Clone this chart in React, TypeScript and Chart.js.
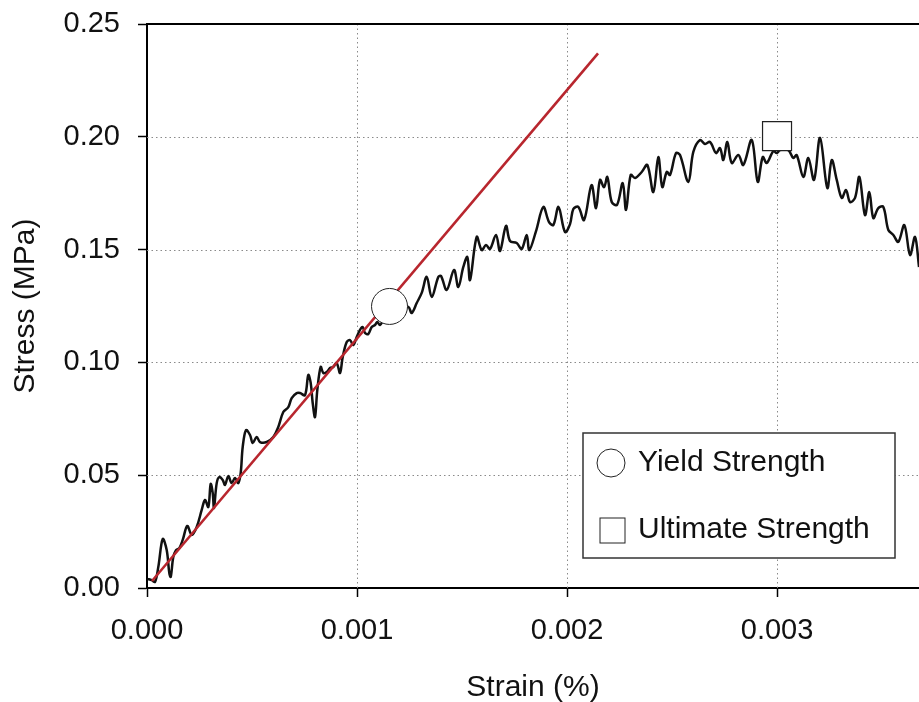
import React, { useEffect, useRef } from 'react';
import { Chart, registerables } from 'chart.js';

Chart.register(...registerables);

// Measured stress-strain curve
const strain = [
  0.0000024, 0.0000224, 0.0000381, 0.0000538, 0.0000748, 0.0000938, 0.0001062, 0.0001129, 0.0001252, 0.0001381,
  0.0001538, 0.00017, 0.0001919, 0.0002129, 0.0002367, 0.0002605, 0.0002762, 0.0002919, 0.0003033, 0.0003129,
  0.000319, 0.0003319, 0.0003443, 0.0003605, 0.0003714, 0.0003871, 0.0004033, 0.000419, 0.0004348, 0.0004462,
  0.0004557, 0.0004714, 0.0004905, 0.0005033, 0.0005224, 0.0005381, 0.00057, 0.0006014, 0.0006252, 0.000649,
  0.0006729, 0.000689, 0.0007129, 0.0007286, 0.0007524, 0.0007681, 0.0007795, 0.000789, 0.0008, 0.000811,
  0.0008271, 0.0008395, 0.0008557, 0.0008714, 0.0008871, 0.0009033, 0.000919, 0.0009319, 0.000951, 0.0009667,
  0.0009824, 0.0009986, 0.0010143, 0.0010271, 0.0010381, 0.0010538, 0.00107, 0.0010857, 0.0010967, 0.0011095,
  0.0011333, 0.001181, 0.0012143, 0.0012443, 0.0012605, 0.0012843, 0.0013081, 0.0013319, 0.0013557, 0.0013871,
  0.0014, 0.0014271, 0.0014619, 0.0014824, 0.0015062, 0.0015252, 0.0015381, 0.00157, 0.0015938, 0.0016143,
  0.0016333, 0.0016619, 0.001681, 0.0017095, 0.0017286, 0.0017605, 0.0017843, 0.0018081, 0.0018205, 0.0018524,
  0.0018871, 0.0019143, 0.0019348, 0.0019595, 0.0019905, 0.0020143, 0.00203, 0.0020538, 0.002081, 0.0021167,
  0.0021381, 0.0021571, 0.0021762, 0.0021919, 0.0022129, 0.0022381, 0.0022652, 0.002281, 0.0023033, 0.0023238,
  0.0023557, 0.0023824, 0.002411, 0.0024348, 0.0024538, 0.0024748, 0.0024905, 0.002519, 0.0025381, 0.0025776,
  0.0026014, 0.0026333, 0.0026571, 0.002681, 0.0027095, 0.0027286, 0.0027443, 0.0027633, 0.0027843, 0.0028157,
  0.0028395, 0.0028795, 0.0029081, 0.0029319, 0.002951, 0.0029824, 0.0029986, 0.0030143, 0.0030538, 0.0030776,
  0.0030938, 0.0031252, 0.003149, 0.0031762, 0.0032048, 0.0032395, 0.0032605, 0.0032843, 0.0033081, 0.0033286,
  0.0033476, 0.0033714, 0.0033919, 0.003419, 0.0034395, 0.0034586, 0.0034824, 0.0035062, 0.00353, 0.0035538,
  0.0035776, 0.0036062, 0.0036333, 0.0036571, 0.0036762,
];
const stress = [
  0.004, 0.0035, 0.0027, 0.0093, 0.0217, 0.0168, 0.0066, 0.0049, 0.0137, 0.0168,
  0.0177, 0.0213, 0.0275, 0.0235, 0.027, 0.0346, 0.039, 0.0359, 0.0461, 0.0421,
  0.0355, 0.0465, 0.0492, 0.0479, 0.0457, 0.0496, 0.0465, 0.0488, 0.0465, 0.051,
  0.0625, 0.07, 0.0678, 0.0643, 0.0669, 0.0647, 0.0647, 0.0669, 0.0714, 0.078,
  0.0802, 0.0842, 0.0864, 0.0864, 0.0855, 0.0944, 0.0909, 0.082, 0.0758, 0.0878,
  0.098, 0.0953, 0.0957, 0.0975, 0.098, 0.0997, 0.0953, 0.1024, 0.109, 0.1099,
  0.1077, 0.1113, 0.1144, 0.1157, 0.113, 0.1126, 0.1157, 0.1166, 0.1179, 0.1166,
  0.1197, 0.1223, 0.1232, 0.1246, 0.1219, 0.1263, 0.1308, 0.1379, 0.129, 0.1379,
  0.1383, 0.1321, 0.141, 0.1334, 0.1423, 0.1467, 0.1365, 0.1556, 0.1498, 0.152,
  0.1503, 0.1565, 0.1494, 0.1605, 0.1538, 0.1529, 0.1503, 0.1565, 0.1498, 0.1582,
  0.1689, 0.1622, 0.1609, 0.1689, 0.1578, 0.1613, 0.168, 0.1689, 0.1631, 0.1786,
  0.1684, 0.1809, 0.1777, 0.1822, 0.1711, 0.1698, 0.1795, 0.1676, 0.1831, 0.1817,
  0.1844, 0.1875, 0.1755, 0.191, 0.1777, 0.1844, 0.1831, 0.1928, 0.1919, 0.18,
  0.1933, 0.1986, 0.1968, 0.1977, 0.1928, 0.195, 0.1897, 0.1977, 0.1884, 0.1919,
  0.1875, 0.1986, 0.18, 0.191, 0.1884, 0.1937, 0.1928, 0.1941, 0.1941, 0.1906,
  0.1919, 0.1822, 0.1906, 0.1809, 0.1995, 0.1773, 0.1897, 0.1809, 0.1729, 0.1764,
  0.1711, 0.1729, 0.1822, 0.1653, 0.1755, 0.164, 0.1684, 0.1689, 0.1587, 0.1565,
  0.1534, 0.1609, 0.1476, 0.1556, 0.1423,
];

// Linear elastic fit line
const elasticStrain = [0.0000238, 0.0021476];
const elasticStress = [0.0031, 0.237];

// Marked points
const yieldStrain = [0.0011548];
const yieldStress = [0.1248];
const ultimateStrain = [0.003];
const ultimateStress = [0.2003];

// Axis ticks
const xTicks = [0, 0.001, 0.002, 0.003];
const yTicks = [0, 0.05, 0.1, 0.15, 0.2, 0.25];
const xMin = 0;
const xMax = 0.003676;
const yMin = 0;
const yMax = 0.25;

const FONT = "'Liberation Sans', Arial, Helvetica, sans-serif";

const zip = (xs: number[], ys: number[]) => xs.map((x, i) => ({ x, y: ys[i] }));

const zeroPadding = (scale: any) => {
  scale.paddingTop = 0;
  scale.paddingBottom = 0;
  scale.paddingLeft = 0;
  scale.paddingRight = 0;
};

const gridPlugin = {
  id: 'dottedGrid',
  beforeDatasetsDraw(chart: any) {
    const { ctx, chartArea: ca, scales } = chart;
    const x = scales.x;
    const y = scales.y;
    ctx.save();
    ctx.strokeStyle = '#8a8a8a';
    ctx.lineWidth = 1;
    ctx.setLineDash([1.5, 3]);
    xTicks.forEach((v) => {
      if (v <= xMin) return;
      const px = Math.round(x.getPixelForValue(v)) + 0.5;
      ctx.beginPath();
      ctx.moveTo(px, ca.top);
      ctx.lineTo(px, ca.bottom);
      ctx.stroke();
    });
    yTicks.forEach((v) => {
      if (v <= yMin || v >= yMax) return;
      const py = Math.round(y.getPixelForValue(v)) + 0.5;
      ctx.beginPath();
      ctx.moveTo(ca.left, py);
      ctx.lineTo(ca.right, py);
      ctx.stroke();
    });
    ctx.restore();
  },
  afterDraw(chart: any) {
    const { ctx, chartArea: ca } = chart;
    ctx.save();
    ctx.strokeStyle = '#000';
    ctx.lineWidth = 2;
    ctx.beginPath();
    ctx.moveTo(ca.left - 1, ca.top);
    ctx.lineTo(ca.right, ca.top);
    ctx.stroke();
    ctx.restore();
  },
};

const legendPlugin = {
  id: 'boxLegend',
  afterDraw(chart: any) {
    const { ctx, chartArea: ca } = chart;
    const ds = chart.data.datasets;
    const x0 = ca.left + 436;
    const y0 = ca.bottom - 155;
    const w = 312;
    const h = 125;
    ctx.save();
    ctx.fillStyle = '#fff';
    ctx.fillRect(x0, y0, w, h);
    ctx.strokeStyle = '#333';
    ctx.lineWidth = 1.5;
    ctx.strokeRect(x0, y0, w, h);

    // circle marker
    ctx.lineWidth = 1;
    ctx.strokeStyle = '#222';
    ctx.beginPath();
    ctx.arc(x0 + 28, y0 + 30, 14, 0, Math.PI * 2);
    ctx.fill();
    ctx.stroke();
    // square marker
    ctx.strokeRect(x0 + 17, y0 + 85, 25, 25);

    ctx.fillStyle = '#111';
    ctx.font = `30px ${FONT}`;
    ctx.textBaseline = 'middle';
    ctx.textAlign = 'left';
    ctx.fillText(ds[2].label, x0 + 55, y0 + 30);
    ctx.fillText(ds[3].label, x0 + 55, y0 + 97);
    ctx.restore();
  },
};

export default function App() {
  const ref = useRef<HTMLCanvasElement | null>(null);

  useEffect(() => {
    if (!ref.current) return;
    const chart = new Chart(ref.current, {
      type: 'scatter',
      data: {
        datasets: [
          {
            label: 'Stress-Strain',
            data: zip(strain, stress),
            showLine: true,
            borderColor: '#111',
            borderWidth: 2.5,
            pointRadius: 0,
            tension: 0.35,
            order: 4,
          },
          {
            label: 'Elastic Fit',
            data: zip(elasticStrain, elasticStress),
            showLine: true,
            borderColor: '#b8262e',
            borderWidth: 2.6,
            pointRadius: 0,
            order: 3,
          },
          {
            label: 'Yield Strength',
            data: zip(yieldStrain, yieldStress),
            pointStyle: 'circle',
            pointRadius: 18,
            pointBackgroundColor: '#fff',
            pointBorderColor: '#222',
            pointBorderWidth: 1,
            order: 1,
          },
          {
            label: 'Ultimate Strength',
            data: zip(ultimateStrain, ultimateStress),
            pointStyle: 'rect',
            pointRadius: 20.5,
            pointBackgroundColor: '#fff',
            pointBorderColor: '#222',
            pointBorderWidth: 1.2,
            order: 2,
          },
        ],
      },
      options: {
        animation: false,
        responsive: false,
        maintainAspectRatio: false,
        layout: { autoPadding: false, padding: { top: 24, right: 0, bottom: 0, left: 0 } },
        plugins: {
          legend: { display: false },
          tooltip: { enabled: false },
        },
        scales: {
          x: {
            type: 'linear',
            min: xMin,
            max: xMax,
            afterBuildTicks: (scale: any) => {
              scale.ticks = xTicks.map((v) => ({ value: v }));
            },
            afterFit: (scale: any) => {
              scale.height = 114;
              zeroPadding(scale);
            },
            grid: {
              drawOnChartArea: false,
              drawTicks: true,
              tickLength: 9,
              tickColor: '#000',
              tickWidth: 1.5,
            },
            border: { color: '#000', width: 2 },
            ticks: {
              padding: 17,
              color: '#111',
              font: { family: FONT, size: 29 },
              maxRotation: 0,
              callback: (v: any) => Number(v).toFixed(3),
            },
            title: {
              display: true,
              text: 'Strain (%)',
              color: '#111',
              font: { family: FONT, size: 30, lineHeight: 1 },
              padding: { top: 0, bottom: -1 },
            },
          },
          y: {
            type: 'linear',
            min: yMin,
            max: yMax,
            afterBuildTicks: (scale: any) => {
              scale.ticks = yTicks.map((v) => ({ value: v }));
            },
            afterFit: (scale: any) => {
              scale.width = 147;
              zeroPadding(scale);
            },
            grid: {
              drawOnChartArea: false,
              drawTicks: true,
              tickLength: 9,
              tickColor: '#000',
              tickWidth: 1.5,
            },
            border: { color: '#000', width: 2 },
            ticks: {
              padding: 18,
              color: '#111',
              font: { family: FONT, size: 29 },
              callback: (v: any) => Number(v).toFixed(2),
            },
            title: {
              display: true,
              text: 'Stress (MPa)',
              color: '#111',
              font: { family: FONT, size: 30, lineHeight: 1.2 },
              padding: { top: 8, bottom: 8 },
            },
          },
        },
      },
      plugins: [gridPlugin, legendPlugin],
    } as any);
    return () => chart.destroy();
  }, []);

  return (
    <div style={{ position: 'absolute', left: 0, top: 0, width: 919, height: 702, background: '#fff' }}>
      <canvas ref={ref} width={919} height={702} style={{ display: 'block', width: 919, height: 702 }} />
    </div>
  );
}
